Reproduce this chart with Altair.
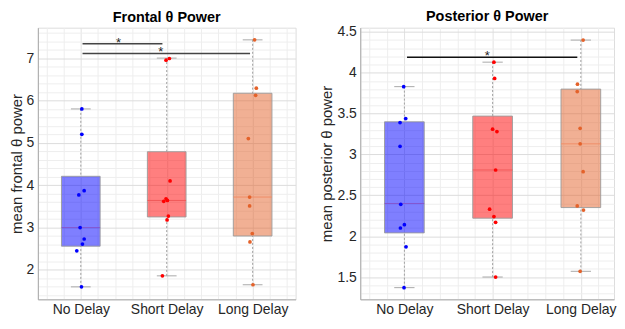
import altair as alt
import pandas as pd
import numpy as np

groups = ["No Delay", "Short Delay", "Long Delay"]
point_colors = ["#0000FF", "#FF0000", "#E4622A"]
median_colors = ["#8458d0", "#f05a5a", "#f08e68"]

# ---- Frontal theta power ----
frontal_no = [5.80, 5.20, 3.87, 3.77, 3.00, 2.73, 2.61, 2.45, 1.60]
frontal_no_jit = [0.012, 0.012, 0.039, -0.023, -0.008, 0.039, 0.019, -0.047, 0.008]
frontal_short = [6.99, 6.95, 4.10, 3.68, 3.64, 3.62, 3.27, 3.18, 1.86]
frontal_short_jit = [0.031, -0.008, 0.039, -0.008, 0.008, -0.035, 0.019, 0.004, -0.050]
frontal_long = [7.43, 6.29, 6.12, 5.10, 3.72, 3.51, 2.86, 2.66, 1.65]
frontal_long_jit = [0.023, 0.043, 0.035, -0.050, -0.035, -0.035, -0.004, -0.031, 0.004]
frontal_q1 = [2.56, 3.25, 2.80]
frontal_med = [3.00, 3.64, 3.72]
frontal_q3 = [4.21, 4.79, 6.17]
frontal_lo = [1.60, 1.86, 1.65]
frontal_hi = [5.80, 7.00, 7.43]
frontal_sig_x1 = [1.02, 1.02]
frontal_sig_x2 = [1.95, 2.97]
frontal_sig_y = [7.34, 7.11]
frontal_star_x = [1.44, 1.93]

# ---- Posterior theta power ----
post_no = [3.83, 3.44, 3.39, 3.10, 2.39, 2.14, 2.10, 1.87, 1.37]
post_no_jit = [-0.008, 0.015, -0.049, -0.049, -0.041, 0.0, -0.045, 0.019, -0.004]
post_short = [4.13, 3.93, 3.31, 3.28, 2.81, 2.33, 2.24, 2.17, 1.50]
post_short_jit = [0.015, 0.023, 0.0, 0.049, 0.034, -0.034, 0.015, 0.034, 0.034]
post_long = [4.40, 3.86, 3.77, 3.32, 3.13, 2.79, 2.37, 2.32, 1.57]
post_long_jit = [0.026, -0.038, -0.041, -0.008, -0.008, 0.026, -0.041, 0.030, -0.008]
post_q1 = [2.04, 2.22, 2.35]
post_med = [2.40, 2.81, 3.13]
post_q3 = [3.40, 3.47, 3.80]
post_lo = [1.37, 1.50, 1.57]
post_hi = [3.83, 4.13, 4.40]
post_sig_x1 = [1.03]
post_sig_x2 = [2.96]
post_sig_y = [4.19]
post_star_x = [1.94]

frontal_major = [2, 3, 4, 5, 6, 7]
post_major = [1.5, 2, 2.5, 3, 3.5, 4, 4.5]

BOX_HALF = 0.225
CAP_HALF = 0.115
FONT = "Liberation Sans"


def make_panel(vals, jits, q1, med, q3, lo, hi, sx1, sx2, sy, starx,
               title, ytitle, ydom, ystep, major, xdom, width, height, sigcolor):
    pts = []
    for gi, (v, j) in enumerate(zip(vals, jits)):
        for a, b in zip(v, j):
            pts.append({"group": groups[gi], "pos": gi + 1, "value": a, "jit": b})
    pts = pd.DataFrame(pts)
    stats = pd.DataFrame({"group": groups, "pos": [1, 2, 3], "q1": q1, "med": med,
                          "q3": q3, "lo": lo, "hi": hi})
    sig = pd.DataFrame({"x1": sx1, "x2": sx2, "y": sy, "sx": starx, "star": ["*"] * len(sy)})

    yminor = [round(v, 2) for v in np.arange(np.ceil(ydom[0] / ystep) * ystep, ydom[1], ystep)]
    xminor = [round(v, 2) for v in np.arange(0.6, xdom[1], 0.2)]
    major_test = " || ".join([f"abs(datum.value - {m}) < 1e-6" for m in major])
    xlab = " : ".join([f"abs(datum.value - {i + 1}) < 1e-6 ? '{g}'" for i, g in enumerate(groups)]) + " : ''"

    yaxis = alt.Axis(values=yminor, title=ytitle, grid=True, ticks=False,
                     labelExpr=f"({major_test}) ? '' + datum.value : ''",
                     gridColor={"condition": {"test": major_test, "value": "#dcdcdc"}, "value": "#eeeeee"},
                     labelOverlap=False, labelFontSize=14, titleFontSize=15, labelPadding=4,
                     titlePadding=2, titleFontWeight="normal", labelColor="#262626",
                     titleColor="#262626", domainColor="#a8a8a8", labelFont=FONT, titleFont=FONT)
    xaxis = alt.Axis(values=xminor, title=None, grid=True, ticks=False, labelExpr=xlab,
                     gridColor={"condition": {"test": "abs(datum.value - round(datum.value)) < 1e-6",
                                              "value": "#e2e2e2"}, "value": "#eeeeee"},
                     labelOverlap=False, labelFlush=False, labelFontSize=14, labelPadding=3,
                     labelColor="#262626", domainColor="#a8a8a8", labelFont=FONT)
    xs = alt.Scale(domain=list(xdom), nice=False, zero=False)
    ys = alt.Scale(domain=list(ydom), nice=False, zero=False)
    col = alt.Color("group:N", scale=alt.Scale(domain=groups, range=point_colors), legend=None)

    base = alt.Chart(stats)
    whisk_hi = base.mark_rule(color="#a0a0a0", strokeDash=[2, 2], strokeWidth=1).encode(
        x=alt.X("pos:Q", scale=xs, axis=xaxis), y=alt.Y("hi:Q", scale=ys, axis=yaxis), y2="q3:Q")
    whisk_lo = base.mark_rule(color="#a0a0a0", strokeDash=[2, 2], strokeWidth=1).encode(
        x=alt.X("pos:Q", scale=xs, axis=xaxis), y=alt.Y("lo:Q", scale=ys, axis=yaxis), y2="q1:Q")
    caps_hi = base.transform_calculate(xl=f"datum.pos - {CAP_HALF}", xr=f"datum.pos + {CAP_HALF}").mark_rule(
        color="#a8a8a8", strokeWidth=1).encode(
        x=alt.X("xl:Q", scale=xs, axis=xaxis), x2="xr:Q", y=alt.Y("hi:Q", scale=ys, axis=yaxis))
    caps_lo = base.transform_calculate(xl=f"datum.pos - {CAP_HALF}", xr=f"datum.pos + {CAP_HALF}").mark_rule(
        color="#a8a8a8", strokeWidth=1).encode(
        x=alt.X("xl:Q", scale=xs, axis=xaxis), x2="xr:Q", y=alt.Y("lo:Q", scale=ys, axis=yaxis))
    box = base.transform_calculate(xl=f"datum.pos - {BOX_HALF}", xr=f"datum.pos + {BOX_HALF}").mark_rect(
        fillOpacity=0.5, stroke="#9a9a9a", strokeWidth=1, strokeOpacity=0.9).encode(
        x=alt.X("xl:Q", scale=xs, axis=xaxis), x2="xr:Q",
        y=alt.Y("q1:Q", scale=ys, axis=yaxis), y2="q3:Q",
        fill=alt.Fill("group:N", scale=alt.Scale(domain=groups, range=point_colors), legend=None))
    median = base.transform_calculate(xl=f"datum.pos - {BOX_HALF}", xr=f"datum.pos + {BOX_HALF}").mark_rule(
        strokeWidth=1).encode(
        x=alt.X("xl:Q", scale=xs, axis=xaxis), x2="xr:Q", y=alt.Y("med:Q", scale=ys, axis=yaxis),
        stroke=alt.Stroke("group:N", scale=alt.Scale(domain=groups, range=median_colors), legend=None))
    points = alt.Chart(pts).transform_calculate(xj="datum.pos + datum.jit").mark_circle(
        size=14, opacity=1).encode(
        x=alt.X("xj:Q", scale=xs, axis=xaxis), y=alt.Y("value:Q", scale=ys, axis=yaxis), color=col)
    siglines = alt.Chart(sig).mark_rule(color=sigcolor, strokeWidth=1.5).encode(
        x=alt.X("x1:Q", scale=xs, axis=xaxis), x2="x2:Q", y=alt.Y("y:Q", scale=ys, axis=yaxis))
    stars = alt.Chart(sig).mark_text(font=FONT, fontSize=13, baseline="alphabetic", dy=3,
                                     color="#222222").encode(
        x=alt.X("sx:Q", scale=xs, axis=xaxis), y=alt.Y("y:Q", scale=ys, axis=yaxis), text="star:N")

    return alt.layer(whisk_hi, whisk_lo, caps_hi, caps_lo, box, median, points, siglines, stars).properties(
        width=width, height=height,
        title=alt.TitleParams(title, fontSize=14.5, fontWeight="bold", color="black", offset=0, font=FONT))


left = make_panel([frontal_no, frontal_short, frontal_long],
                  [frontal_no_jit, frontal_short_jit, frontal_long_jit],
                  frontal_q1, frontal_med, frontal_q3, frontal_lo, frontal_hi,
                  frontal_sig_x1, frontal_sig_x2, frontal_sig_y, frontal_star_x,
                  "Frontal θ Power", "mean frontal θ power", (1.306, 7.718), 0.2, frontal_major,
                  (0.5, 3.5), 259, 273, "#444444")
right = make_panel([post_no, post_short, post_long],
                   [post_no_jit, post_short_jit, post_long_jit],
                   post_q1, post_med, post_q3, post_lo, post_hi,
                   post_sig_x1, post_sig_x2, post_sig_y, post_star_x,
                   "Posterior θ Power", "mean posterior θ power", (1.227, 4.552), 0.1, post_major,
                   (0.5, 3.376), 255, 273, "#111111")

chart = alt.hconcat(left, right, spacing=23).properties(padding=0).configure_view(
    stroke="#cccccc").configure(font=FONT, background="white")

chart.save("out.html", embed_options={"renderer": "svg", "actions": False})
